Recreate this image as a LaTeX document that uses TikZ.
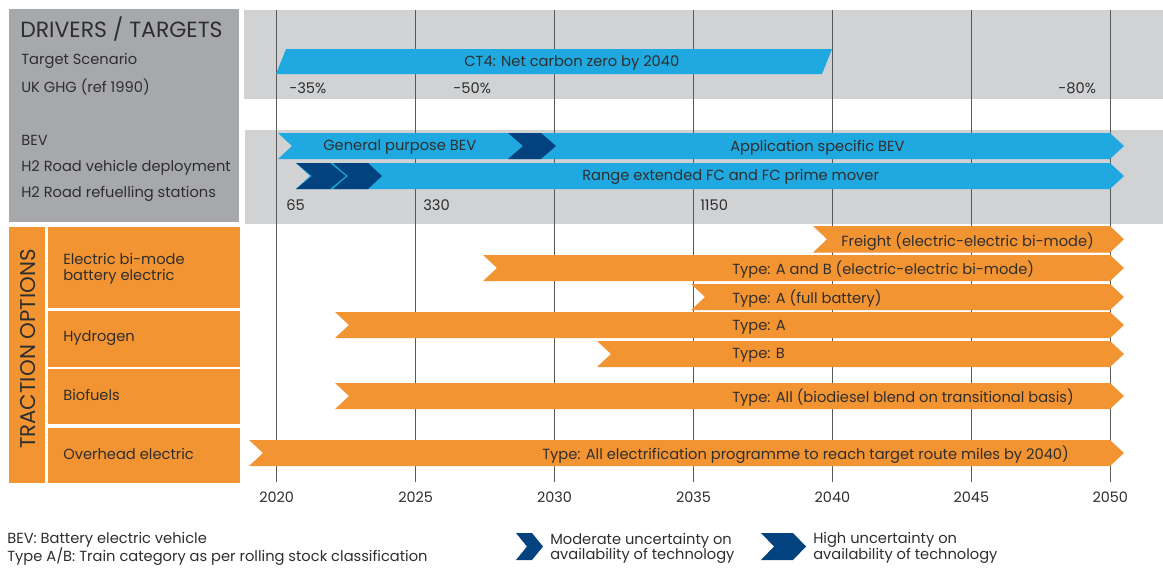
\documentclass[tikz,border=0pt]{standalone}
\usepackage{fontspec}
\setmainfont{Poppins}
\definecolor{lblue}{HTML}{1FA9E0}
\definecolor{dblue}{HTML}{02437F}
\definecolor{orng}{HTML}{F39432}
\definecolor{gbox}{HTML}{A7A8AB}
\definecolor{gband}{HTML}{D1D2D4}
\definecolor{txt}{HTML}{2E2E2E}
\definecolor{grid}{HTML}{58595B}
\newcommand\arrowbar[5]{%
  \pgfmathsetmacro\mymid{(#3+#4)/2}%
  \fill[#5] (#1,#3) -- (#2,#3) -- (#2+14,\mymid) -- (#2,#4) -- (#1,#4) -- (#1+14,\mymid) -- cycle;}
\newcommand\chev[6]{%
  \pgfmathsetmacro\mymid{(#3+#4)/2}%
  \path[#6] (#1,#3) -- (#2,#3) -- (#5,\mymid) -- (#2,#4) -- (#1,#4) -- (#1+#5-#2,\mymid) -- cycle;}
\begin{document}
\begin{tikzpicture}[x=0.75pt,y=-0.75pt,
  lbl/.style={text=txt,inner sep=0pt,anchor=west,yshift=-1pt,font=\fontsize{11}{13}\selectfont},
  yr/.style={text=txt,inner sep=0pt,font=\fontsize{10.8}{12}\selectfont},
  gl/.style={grid,line width=1.1pt}]
\useasboundingbox (0,0) rectangle (1163,568);
% backgrounds
\fill[gbox] (9,9) rectangle (239,222);
\fill[gband] (244,10) rectangle (1163,99);
\fill[gband] (245,130) rectangle (1163,224);
% grid lines
\foreach \i/\y in {0/2020,1/2025,2/2030,3/2035,4/2040,5/2045,6/2050}{
  \draw[gl] (276.7+138.93*\i,10) -- (276.7+138.93*\i,482);
  \node[yr] (y\y) at (276.7+138.93*\i,497) {\y};
}
% left header texts
\node[text=txt,inner sep=0pt,anchor=west,font=\fontsize{16.5}{18}\selectfont] (hd) at (20,29.5) {DRIVERS / TARGETS};
\node[lbl] (ts) at (21,60) {Target Scenario};
\node[lbl] (ghg) at (21,86) {UK GHG (ref 1990)};
\node[lbl] (bev) at (21,139) {BEV};
\node[lbl] (h2v) at (21,166) {H2 Road vehicle deployment};
\node[lbl] (h2r) at (21,193) {H2 Road refuelling stations};
% CT4
\fill[lblue] (286,49) -- (832,49) -- (822,74) -- (276,74) -- cycle;
\node[lbl] (ct4) at (464,61.5) {CT4: Net carbon zero by 2040};
\node[lbl] (p35) at (289,87) {-35\%};
\node[lbl] (p50) at (453,87) {-50\%};
\node[lbl] (p80) at (1058,87) {-80\%};
% BEV row
\arrowbar{278}{1110}{133}{159}{lblue}
\chev{508}{541}{133}{159}{556}{fill=dblue}
\node[lbl] (gp) at (323,146) {General purpose BEV};
\node[lbl] (as) at (730,146) {Application specific BEV};
% H2 row
\arrowbar{296}{1110}{163}{189}{lblue}
\chev{296}{331}{163}{189}{347}{fill=dblue}
\chev{333}{368}{163}{189}{382}{fill=dblue}
\draw[lblue,line width=0.8pt] (331,163) -- (347,176) -- (331,189);
\node[lbl] (rx) at (582,176) {Range extended FC and FC prime mover};
\node[lbl] (n65) at (286,204) {65};
\node[lbl] (n330) at (423,204) {330};
\node[lbl] (n1150) at (700,204) {1150};
% orange left
\fill[orng] (9,227) rectangle (45,483);
\fill[orng] (48,227) rectangle (240,308);
\fill[orng] (48,311) rectangle (240,367);
\fill[orng] (48,369) rectangle (240,424);
\fill[orng] (48,428) rectangle (240,483);
\node[text=txt,inner sep=0pt,rotate=90,font=\fontsize{16}{18}\selectfont] (tro) at (28,349) {TRACTION OPTIONS};
\node[lbl] (eb1) at (63,258) {Electric bi-mode};
\node[lbl] (eb2) at (63,275) {battery electric};
\node[lbl] (hyd) at (63,337) {Hydrogen};
\node[lbl] (bio) at (63,394) {Biofuels};
\node[lbl] (ovh) at (63,453) {Overhead electric};
% orange bars
\arrowbar{813}{1110}{226}{252.5}{orng}
\arrowbar{483}{1110}{255}{281}{orng}
\arrowbar{691}{1110}{284}{310}{orng}
\arrowbar{335}{1110}{312}{338}{orng}
\arrowbar{597}{1110}{341}{367}{orng}
\arrowbar{335}{1110}{383}{409}{orng}
\arrowbar{249}{1110}{440}{466}{orng}
\node[lbl] (fr) at (841,240) {Freight (electric-electric bi-mode)};
\node[lbl] (tab) at (732,268.5) {Type: A and B (electric-electric bi-mode)};
\node[lbl] (tfb) at (732,297) {Type: A (full battery)};
\node[lbl] (tha) at (732,325.5) {Type: A};
\node[lbl] (thb) at (732,354) {Type: B};
\node[lbl] (tbi) at (732,396) {Type: All (biodiesel blend on transitional basis)};
\node[lbl] (tov) at (542,453) {Type: All electrification programme to reach target route miles by 2040)};
% legend
\node[lbl] (lg1) at (7,538) {BEV: Battery electric vehicle};
\node[lbl] (lg2) at (7,555) {Type A/B: Train category as per rolling stock classification};
\chev{516}{532}{533}{560}{543}{fill=dblue}
\chev{761}{793}{533}{560}{806}{fill=dblue}
\node[lbl] (m1) at (550,539) {Moderate uncertainty on};
\node[lbl] (m2) at (550,555) {availability of technology};
\node[lbl] (h1) at (813,539) {High uncertainty on};
\node[lbl] (h2) at (813,555) {availability of technology};
\end{tikzpicture}
\end{document}
